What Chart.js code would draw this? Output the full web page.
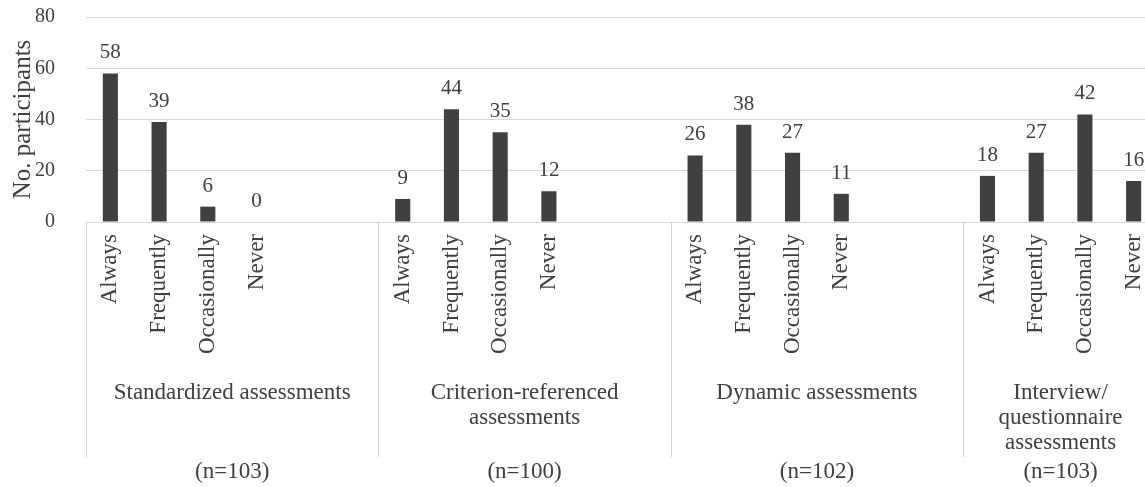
<!DOCTYPE html>
<html><head><meta charset="utf-8">
<script src="https://cdn.jsdelivr.net/npm/chart.js@4"></script>
<style>
html,body{margin:0;padding:0;background:#fff;overflow:hidden;width:1145px;height:487px}
#wrap{width:1158px;height:487px}
canvas{display:block}
</style></head>
<body><div id="wrap"><canvas id="c" width="1158" height="487" style="width:1158px;height:487px"></canvas></div>
<script>
// ---- data ----
const responses = ['Always', 'Frequently', 'Occasionally', 'Never'];
const standardized = [58, 39, 6, 0];
const criterion = [9, 44, 35, 12];
const dynamic = [26, 38, 27, 11];
const interview = [18, 27, 42, 16];
const groupNames = [['Standardized assessments'], ['Criterion-referenced', 'assessments'], ['Dynamic assessments'], ['Interview/', 'questionnaire', 'assessments']];
const groupN = ['(n=103)', '(n=100)', '(n=102)', '(n=103)'];
const blanksAfter = [2, 2, 2, 0];
const yTicks = [0, 20, 40, 60, 80];

const series = [standardized, criterion, dynamic, interview];
const labels = [], values = [], groupStart = [], groupEnd = [];
series.forEach((s, g) => {
  groupStart.push(labels.length);
  responses.forEach((r, i) => { labels.push(r); values.push(s[i]); });
  for (let k = 0; k < blanksAfter[g]; k++) { labels.push(''); values.push(null); }
  groupEnd.push(labels.length - 1);
});

const FONT = '"Liberation Serif", "Times New Roman", serif';
const TXT = '#404040';

const decor = {
  id: 'decor',
  afterDatasetsDraw(chart) {
    const ctx = chart.ctx, meta = chart.getDatasetMeta(0);
    ctx.save();
    ctx.font = '21px ' + FONT;
    ctx.fillStyle = TXT;
    ctx.textAlign = 'center';
    ctx.textBaseline = 'alphabetic';
    meta.data.forEach((el, i) => {
      const v = values[i];
      if (v === null || v === undefined) return;
      ctx.fillText(String(v), el.x, el.y - 15);
    });
    ctx.restore();
  },
  afterDraw(chart) {
    const x = chart.scales.x, ctx = chart.ctx, area = chart.chartArea;
    const half = (x.getPixelForValue(1) - x.getPixelForValue(0)) / 2;
    const lineBottom = area.bottom + 235;
    ctx.save();
    ctx.strokeStyle = '#d0d0d0';
    ctx.lineWidth = 1;
    groupStart.forEach((s) => {
      const px = Math.round(x.getPixelForValue(s) - half) + 0.5;
      ctx.beginPath(); ctx.moveTo(px, area.bottom); ctx.lineTo(px, lineBottom); ctx.stroke();
    });
    const lastPx = Math.round(x.getPixelForValue(groupEnd[groupEnd.length - 1]) + half) - 0.5;
    ctx.beginPath(); ctx.moveTo(lastPx, area.bottom); ctx.lineTo(lastPx, lineBottom); ctx.stroke();

    ctx.fillStyle = TXT;
    ctx.textAlign = 'center';
    ctx.textBaseline = 'middle';
    groupStart.forEach((s, g) => {
      const left = x.getPixelForValue(s) - half;
      const right = x.getPixelForValue(groupEnd[g]) + half;
      const cx = (left + right) / 2;
      ctx.font = '23px ' + FONT;
      groupNames[g].forEach((line, j) => {
        ctx.fillText(line, cx, area.bottom + 171 + j * 25);
      });
      ctx.fillText(groupN[g], cx, area.bottom + 250);
    });
    ctx.restore();
  }
};

new Chart(document.getElementById('c'), {
  type: 'bar',
  data: {
    labels: labels,
    datasets: [{
      data: values,
      backgroundColor: '#404040',
      borderWidth: 0,
      categoryPercentage: 1,
      barPercentage: 0.31
    }]
  },
  options: {
    responsive: false,
    animation: false,
    devicePixelRatio: 1,
    layout: { padding: { top: 17, right: 0, left: 0, bottom: 0 } },
    plugins: { legend: { display: false }, tooltip: { enabled: false } },
    scales: {
      x: {
        offset: true,
        grid: { display: false, drawTicks: false },
        border: { display: true, color: '#d9d9d9', width: 1 },
        ticks: {
          autoSkip: false, minRotation: 90, maxRotation: 90, padding: 12,
          color: TXT, font: { family: FONT, size: 23 }
        },
        afterFit(scale) { scale.height = 265; scale.paddingLeft = 0; scale.paddingRight = 0; }
      },
      y: {
        min: 0, max: 80,
        afterBuildTicks(scale) { scale.ticks = yTicks.map(v => ({ value: v })); },
        grid: { color: '#d9d9d9', drawTicks: false },
        border: { display: false },
        ticks: { padding: 31, color: TXT, font: { family: FONT, size: 20 } },
        title: { display: true, text: 'No. participants', color: TXT, font: { family: FONT, size: 25 }, padding: { top: 8, bottom: 0 } },
        afterFit(scale) { scale.width = 86; scale.paddingTop = 0; scale.paddingBottom = 0; }
      }
    }
  },
  plugins: [decor]
});
</script>
</body></html>
